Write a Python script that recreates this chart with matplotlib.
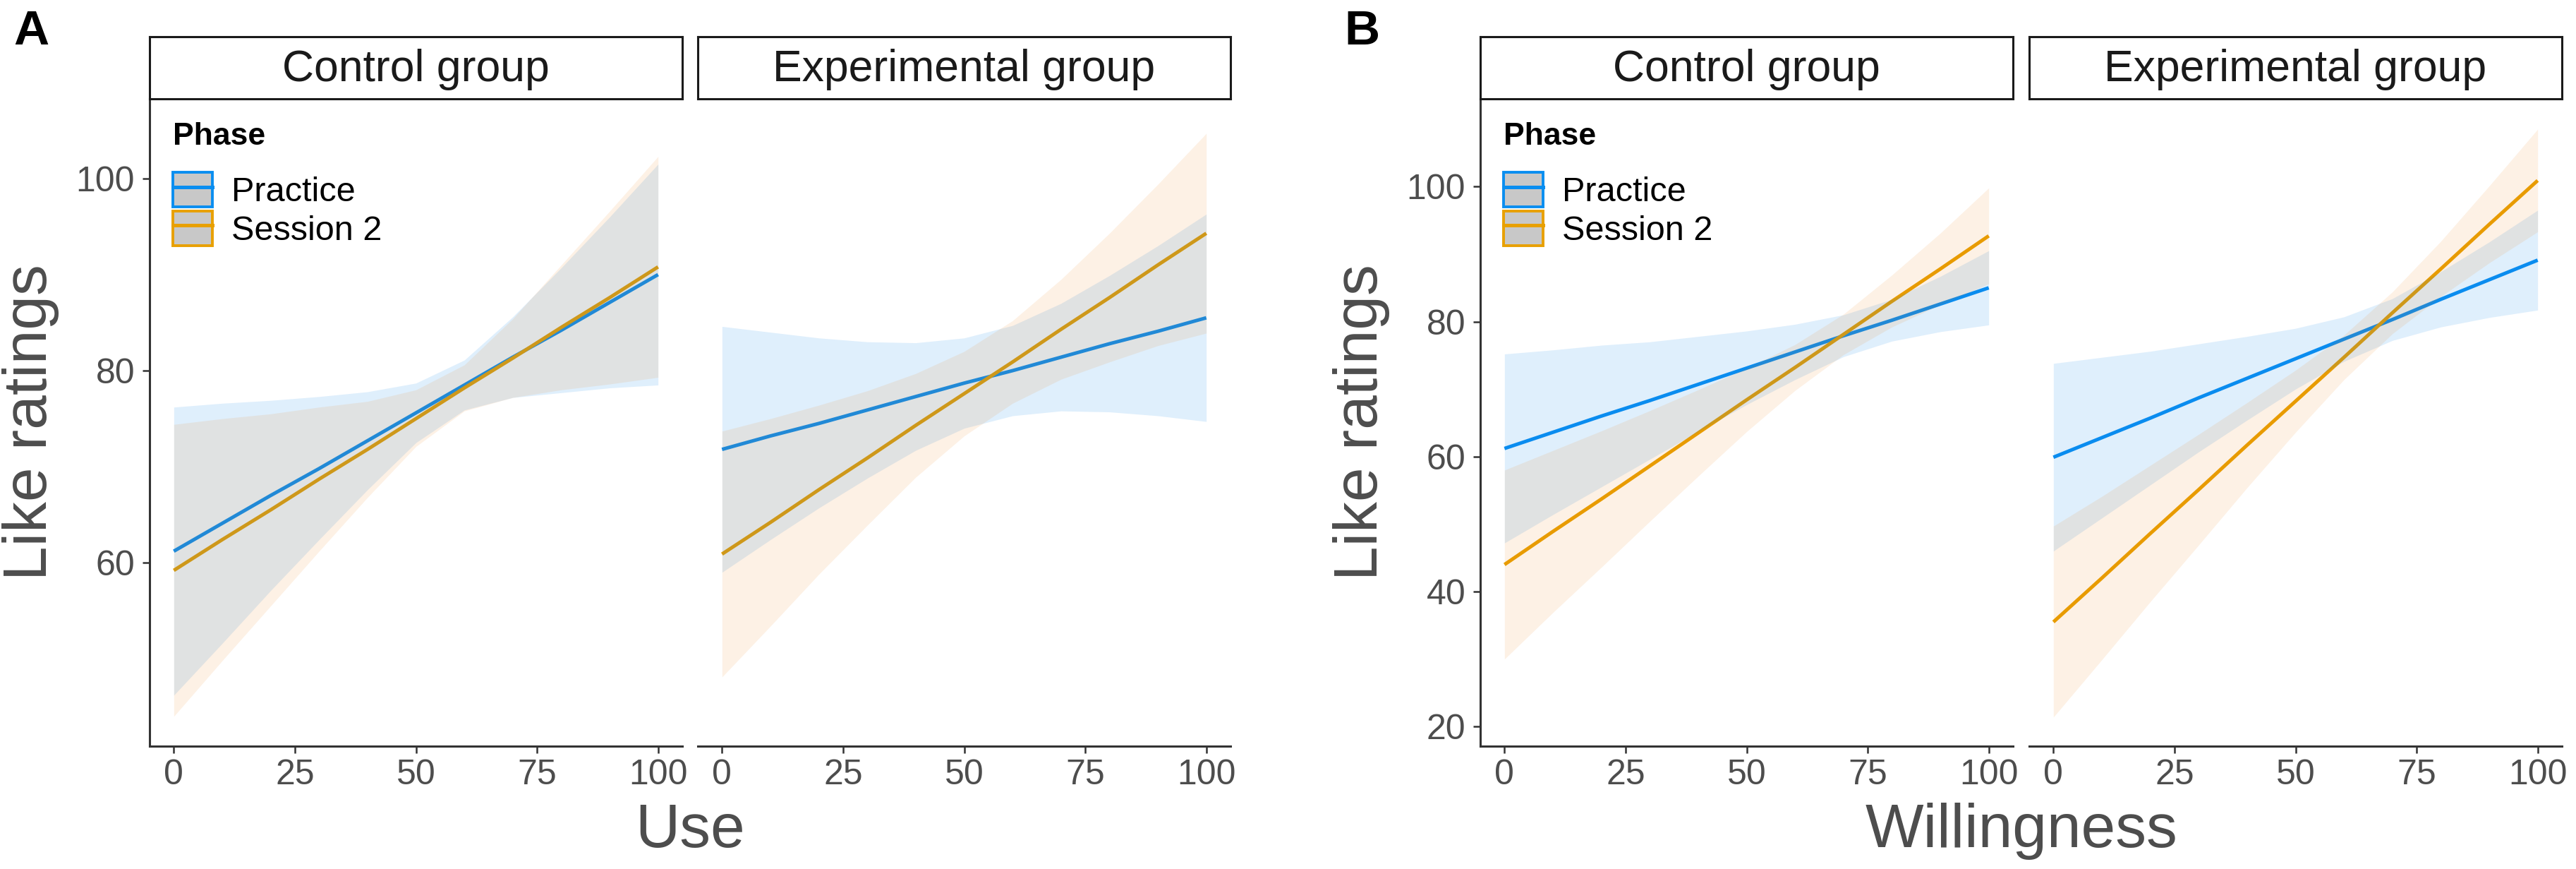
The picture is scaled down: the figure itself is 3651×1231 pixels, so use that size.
import matplotlib.pyplot as plt
from matplotlib.patches import Patch
from matplotlib.lines import Line2D

plt.rcParams['font.family'] = ['Liberation Sans', 'DejaVu Sans']

W, H = 3651, 1231

# predictor values (0-100) at which the fitted lines / bands are read
x_vals = [0, 10, 20, 30, 40, 50, 60, 70, 80, 90, 100]

phases = ['Practice', 'Session 2']
groups = ['Control group', 'Experimental group']

# ---- A: Use ----
use_ctrl_practice_fit = [61.2, 64.1, 67.0, 69.8, 72.7, 75.6, 78.5, 81.4, 84.2, 87.1, 90.0]
use_ctrl_practice_lo = [46.2, 51.6, 57.1, 62.4, 67.6, 72.5, 75.9, 77.2, 77.7, 78.2, 78.5]
use_ctrl_practice_hi = [76.2, 76.6, 76.9, 77.3, 77.8, 78.7, 81.1, 85.6, 90.7, 96.0, 101.5]
use_ctrl_s2_fit = [59.2, 62.4, 65.5, 68.7, 71.8, 75.0, 78.2, 81.3, 84.5, 87.6, 90.8]
use_ctrl_s2_lo = [44.0, 49.8, 55.5, 61.2, 66.8, 72.1, 75.8, 77.2, 78.0, 78.6, 79.3]
use_ctrl_s2_hi = [74.4, 75.0, 75.5, 76.2, 76.8, 78.0, 80.6, 85.4, 91.0, 96.6, 102.3]

use_exp_practice_fit = [71.8, 73.2, 74.5, 75.9, 77.3, 78.7, 80.0, 81.4, 82.8, 84.1, 85.5]
use_exp_practice_lo = [59.0, 62.4, 65.7, 68.8, 71.7, 74.0, 75.3, 75.8, 75.7, 75.3, 74.7]
use_exp_practice_hi = [84.6, 84.0, 83.4, 83.0, 82.9, 83.4, 84.7, 87.0, 89.9, 93.0, 96.3]
use_exp_s2_fit = [60.9, 64.2, 67.6, 70.9, 74.3, 77.6, 80.9, 84.3, 87.6, 91.0, 94.3]
use_exp_s2_lo = [48.1, 53.4, 58.8, 63.9, 68.9, 73.2, 76.6, 79.1, 80.9, 82.6, 83.9]
use_exp_s2_hi = [73.7, 75.0, 76.4, 77.9, 79.7, 82.0, 85.2, 89.5, 94.3, 99.4, 104.7]

# ---- B: Willingness ----
will_ctrl_practice_fit = [61.2, 63.6, 66.0, 68.3, 70.7, 73.1, 75.5, 77.9, 80.2, 82.6, 85.0]
will_ctrl_practice_lo = [47.2, 51.4, 55.5, 59.6, 63.7, 67.7, 71.4, 74.8, 77.1, 78.5, 79.5]
will_ctrl_practice_hi = [75.2, 75.8, 76.5, 77.0, 77.8, 78.6, 79.6, 81.0, 83.3, 86.7, 90.5]
will_ctrl_s2_fit = [44.0, 48.9, 53.7, 58.6, 63.5, 68.4, 73.2, 78.1, 83.0, 87.8, 92.7]
will_ctrl_s2_lo = [30.0, 36.9, 43.6, 50.4, 57.1, 63.7, 69.8, 75.1, 79.2, 82.5, 85.6]
will_ctrl_s2_hi = [58.0, 60.9, 63.8, 66.8, 69.9, 73.1, 76.6, 81.1, 86.9, 93.1, 99.8]

will_exp_practice_fit = [59.9, 62.8, 65.7, 68.7, 71.6, 74.5, 77.4, 80.3, 83.3, 86.2, 89.1]
will_exp_practice_lo = [46.0, 50.9, 55.8, 60.7, 65.4, 70.0, 74.1, 77.2, 79.2, 80.6, 81.7]
will_exp_practice_hi = [73.8, 74.7, 75.6, 76.7, 77.8, 79.0, 80.7, 83.4, 87.4, 91.8, 96.5]
will_exp_s2_fit = [35.5, 42.0, 48.6, 55.1, 61.7, 68.2, 74.7, 81.3, 87.8, 94.4, 100.9]
will_exp_s2_lo = [21.4, 29.9, 38.5, 46.9, 55.4, 63.6, 71.4, 78.2, 83.7, 88.7, 93.3]
will_exp_s2_hi = [49.7, 54.1, 58.7, 63.3, 68.0, 72.8, 78.0, 84.4, 91.9, 100.1, 108.5]

x_ticks = [0, 25, 50, 75, 100]
use_y_ticks = [60, 80, 100]
will_y_ticks = [20, 40, 60, 80, 100]

line_colors = {'Practice': '#0A8EF0', 'Session 2': '#E8A000'}
band_colors = {'Practice': '#0C86EA', 'Session 2': '#F07800'}
band_alpha = {'Practice': 0.13, 'Session 2': 0.10}
tick_grey = '#4D4D4D'
axis_dark = '#333333'

panels = [
    dict(label='A', xlabel='Use', ylim=(40.9, 108.3), yticks=use_y_ticks,
         lefts=[212, 989],
         series=[
             {'Practice': (use_ctrl_practice_fit, use_ctrl_practice_lo, use_ctrl_practice_hi),
              'Session 2': (use_ctrl_s2_fit, use_ctrl_s2_lo, use_ctrl_s2_hi)},
             {'Practice': (use_exp_practice_fit, use_exp_practice_lo, use_exp_practice_hi),
              'Session 2': (use_exp_s2_fit, use_exp_s2_lo, use_exp_s2_hi)},
         ]),
    dict(label='B', xlabel='Willingness', ylim=(17.1, 113.0), yticks=will_y_ticks,
         lefts=[2098, 2876],
         series=[
             {'Practice': (will_ctrl_practice_fit, will_ctrl_practice_lo, will_ctrl_practice_hi),
              'Session 2': (will_ctrl_s2_fit, will_ctrl_s2_lo, will_ctrl_s2_hi)},
             {'Practice': (will_exp_practice_fit, will_exp_practice_lo, will_exp_practice_hi),
              'Session 2': (will_exp_s2_fit, will_exp_s2_lo, will_exp_s2_hi)},
         ]),
]

fig = plt.figure(figsize=(W / 100, H / 100), dpi=100)

ax_top, ax_bot = 140, 1057
strip_top = 52
panel_w = 755
ax_h = ax_bot - ax_top


def fig_rect(left, top, width, height):
    return [left / W, 1 - (top + height) / H, width / W, height / H]


for p in panels:
    for gi, group in enumerate(groups):
        left = p['lefts'][gi]
        ax = fig.add_axes(fig_rect(left, ax_top, panel_w, ax_h))
        for ph in phases:
            fit, lo, hi = p['series'][gi][ph]
            ax.plot(x_vals, fit, color=line_colors[ph], lw=3.6, zorder=2,
                    solid_capstyle='butt')
        for ph in phases:
            fit, lo, hi = p['series'][gi][ph]
            ax.fill_between(x_vals, lo, hi, color=band_colors[ph],
                            alpha=band_alpha[ph], lw=0, zorder=3)

        ax.set_xlim(-5, 105)
        ax.set_ylim(*p['ylim'])
        ax.set_xticks(x_ticks)
        ax.set_yticks(p['yticks'])
        for s in ['top', 'right']:
            ax.spines[s].set_visible(False)
        for s in ['bottom', 'left']:
            ax.spines[s].set_linewidth(2.2)
            ax.spines[s].set_color(axis_dark)
        ax.tick_params(axis='x', length=7, width=1.8, color=axis_dark,
                       labelsize=36, labelcolor=tick_grey, pad=6)
        ax.tick_params(axis='y', length=7, width=1.8, color=axis_dark,
                       labelsize=36, labelcolor=tick_grey, pad=8)
        if gi == 1:
            ax.spines['left'].set_visible(False)
            ax.tick_params(axis='y', left=False, labelleft=False)
        else:
            ax.text(33 / panel_w, 1 - 65 / ax_h, 'Phase', transform=ax.transAxes,
                    ha='left', va='baseline', fontsize=32, fontweight='bold',
                    color='black', zorder=6)
            handles = []
            for ph in phases:
                box = Patch(facecolor='#C8C8C8', edgecolor=line_colors[ph], lw=2.8)
                ln = Line2D([], [], color=line_colors[ph], lw=3.6)
                handles.append((box, ln))
            leg = ax.legend(handles, phases, loc='upper left',
                            bbox_to_anchor=(33 / panel_w, 1 - 104 / ax_h),
                            frameon=False, fontsize=35, handlelength=1.15,
                            handleheight=1.18, handletextpad=0.55,
                            labelspacing=0.08, borderpad=0, borderaxespad=0)
            leg.set_zorder(5)

        # facet strip
        sax = fig.add_axes(fig_rect(left, strip_top, panel_w, ax_top - strip_top))
        sax.set_xticks([])
        sax.set_yticks([])
        for s in sax.spines.values():
            s.set_linewidth(2.2)
            s.set_color('#1A1A1A')
        sax.text(0.5, 0.47, group, ha='center', va='center', fontsize=45,
                 color='#1A1A1A', transform=sax.transAxes)

    l0 = p['lefts'][0]
    r1 = p['lefts'][1] + panel_w
    fig.text((l0 + r1) / 2 / W, 1 - 1200 / H, p['xlabel'], ha='center',
             va='baseline', fontsize=63, color=tick_grey)
    fig.text((l0 - 168) / W, 1 - 598 / H, 'Like ratings', rotation=90,
             ha='center', va='center', fontsize=63, color=tick_grey)
    fig.text((l0 - 193) / W, 1 - 13 / H, p['label'], ha='left', va='top',
             fontsize=50, fontweight='bold', color='black')

fig.savefig('out.png', dpi=100, facecolor='white')
